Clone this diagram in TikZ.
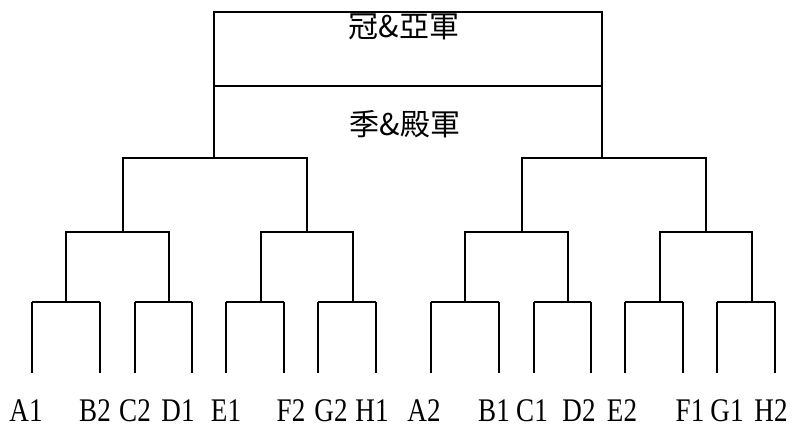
\documentclass[tikz,border=0pt]{standalone}
\usepackage{fontspec}
\setmainfont[FakeStretch=0.82]{Liberation Serif}
\newfontfamily\cjk{Noto Sans CJK TC}

\tikzset{
  bracket/.style={line width=2pt},
  team/.style={font=\fontsize{33}{33}\selectfont, inner sep=0pt, anchor=base},
  roundname/.style={font=\cjk\fontsize{30}{30}\selectfont, inner sep=0pt}
}

\begin{document}
\begin{tikzpicture}[x=1pt,y=-1pt]
	\useasboundingbox (0,0) rectangle (795,426);
	% teams
	\foreach \t/\lx/\tx in {A1/32/26, B2/100/95, C2/135/135, D1/192/178,
	                        E1/226/226, F2/284/291, G2/318/331, H1/376/372,
	                        A2/431/424, B1/499/494, C1/534/532, D2/591/579,
	                        E2/625/622, F1/683/690, G1/717/727, H2/775/771}{
		\coordinate (\t) at (\lx,302);
		\coordinate (e\t) at (\lx,373);
		\node[team] (n\t) at (\tx,421) {\t};
		\draw[bracket] (\t) -- (e\t);
	}
	% junctions
	\foreach \j/\x in {j1/66, j2/169, j3/261, j4/353, j5/465, j6/568, j7/660, j8/752}
		\coordinate (\j) at (\x,302);
	\foreach \k/\x in {k1/123, k2/307, k3/522, k4/706}
		\coordinate (\k) at (\x,232);
	\coordinate (s1) at (214,158);
	\coordinate (s2) at (602,158);
	\coordinate (sf) at (408,86);
	\coordinate (fin) at (408,12);
	% first round
	\foreach \a/\b in {A1/B2, C2/D1, E1/F2, G2/H1, A2/B1, C1/D2, E2/F1, G1/H2}
		\draw[bracket] (\a) -- (\b);
	% second round
	\foreach \a/\b/\k in {j1/j2/k1, j3/j4/k2, j5/j6/k3, j7/j8/k4}
		\draw[bracket] (\a) -- (\a |- \k) -- (\b |- \k) -- (\b);
	% semifinals
	\draw[bracket] (k1) -- (k1 |- s1) -- (k2 |- s1) -- (k2);
	\draw[bracket] (k3) -- (k3 |- s2) -- (k4 |- s2) -- (k4);
	% finals
	\draw[bracket] (s1) -- (s1 |- sf) -- (s2 |- sf) -- (s2);
	\draw[bracket] (s1 |- sf) -- (s1 |- fin) -- (s2 |- fin) -- (s2 |- sf);
	\node[roundname] (third) at (405,124) {季\&殿軍};
	\node[roundname] (champ) at (404,27) {冠\&亞軍};
\end{tikzpicture}
\end{document}
